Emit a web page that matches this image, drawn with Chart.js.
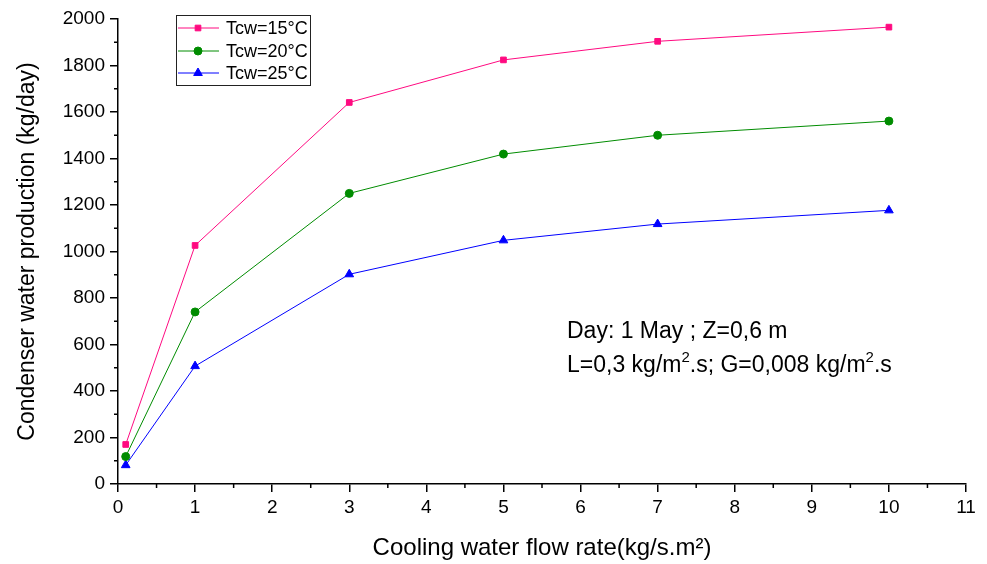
<!DOCTYPE html>
<html>
<head>
<meta charset="utf-8">
<script src="https://cdn.jsdelivr.net/npm/chart.js@4/dist/chart.umd.min.js"></script>
<style>
  html, body { margin: 0; padding: 0; background: #fff; }
  #wrap { width: 987px; height: 564px; position: relative; }
</style>
</head>
<body>
<div id="wrap"><canvas id="chart"></canvas></div>
<script>
// flow rate values (kg/s.m2)
const flowRates = [0.1, 1, 3, 5, 7, 10];
const tcw15 = [170, 1026, 1641, 1824, 1904, 1965];
const tcw20 = [118, 740, 1250, 1419, 1500, 1561];
const tcw25 = [81, 507, 902, 1048, 1118, 1177];
const seriesNames = ["Tcw=15°C", "Tcw=20°C", "Tcw=25°C"];
const seriesColors = ["#ff0a80", "#008c00", "#0000ff"];
const seriesMarkers = ["rect", "circle", "triangle"];

const FONT = "'Liberation Sans', Arial, sans-serif";

function toPoints(vals) {
    return flowRates.map((x, i) => ({ x: x, y: vals[i] }));
}

// minor ticks (chart.js has none), legend box and note text
const extras = {
    id: "extras",
    afterDraw(chart) {
        const ctx = chart.ctx;
        const xs = chart.scales.x, ys = chart.scales.y;
        const area = chart.chartArea;
        ctx.save();
        ctx.strokeStyle = "#000";
        ctx.lineWidth = 1.5;
        ctx.beginPath();
        for (let v = 0.5; v < 11; v += 1) {
            const px = xs.getPixelForValue(v);
            ctx.moveTo(px, area.bottom);
            ctx.lineTo(px, area.bottom + 4);
        }
        for (let v = 100; v < 2000; v += 200) {
            const py = ys.getPixelForValue(v);
            ctx.moveTo(area.left, py);
            ctx.lineTo(area.left - 4, py);
        }
        ctx.stroke();

        // legend
        ctx.lineWidth = 1;
        ctx.strokeStyle = "#222";
        ctx.strokeRect(176.5, 15.5, 134, 70);
        ctx.font = "18px " + FONT;
        ctx.textBaseline = "middle";
        const rows = [28, 51, 73];
        chart.data.datasets.forEach((ds, i) => {
            const y = rows[i];
            ctx.strokeStyle = ds.borderColor;
            ctx.fillStyle = ds.backgroundColor;
            ctx.lineWidth = 1;
            ctx.beginPath();
            ctx.moveTo(178, y);
            ctx.lineTo(219, y);
            ctx.stroke();
            Chart.helpers.drawPoint(ctx, {
                pointStyle: ds.pointStyle,
                radius: ds.pointRadius,
                rotation: 0,
                borderWidth: 1
            }, 198, y);
            ctx.fillStyle = "#000";
            ctx.fillText(ds.label, 226, y + 1);
        });

        // note
        ctx.fillStyle = "#000";
        ctx.textBaseline = "alphabetic";
        ctx.font = "23px " + FONT;
        ctx.fillText("Day: 1 May ; Z=0,6 m", 567, 338);
        const parts = [["L=0,3 kg/m", false], ["2", true], [".s; G=0,008 kg/m", false], ["2", true], [".s", false]];
        let x = 567;
        parts.forEach(([t, sup]) => {
            ctx.font = (sup ? "15px " : "23px ") + FONT;
            ctx.fillText(t, x, sup ? 362 : 372);
            x += ctx.measureText(t).width;
        });
        ctx.restore();
    }
};

const datasets = [tcw15, tcw20, tcw25].map((vals, i) => ({
    label: seriesNames[i],
    data: toPoints(vals),
    borderColor: seriesColors[i],
    backgroundColor: seriesColors[i],
    borderWidth: 1,
    pointStyle: seriesMarkers[i],
    pointRadius: i === 2 ? 5 : 4,
    pointBorderWidth: 1,
    tension: 0
}));

new Chart(document.getElementById("chart"), {
    type: "line",
    data: { datasets: datasets },
    options: {
        responsive: true,
        maintainAspectRatio: false,
        animation: false,
        devicePixelRatio: 1,
        layout: { padding: { top: 19, right: 21, left: 0, bottom: 0 } },
        plugins: {
            legend: { display: false },
            tooltip: { enabled: false }
        },
        scales: {
            x: {
                type: "linear",
                min: 0,
                max: 11,
                afterFit: (s) => { s.height = 80; },
                ticks: { stepSize: 1, color: "#000", font: { family: FONT, size: 19 }, padding: 4 },
                grid: { drawOnChartArea: false, drawTicks: true, tickLength: 8, color: "#000", lineWidth: 1.5 },
                border: { display: true, color: "#000", width: 1.5 },
                title: {
                    display: true,
                    text: "Cooling water flow rate(kg/s.m²)",
                    color: "#000",
                    font: { family: FONT, size: 24 },
                    padding: { top: 0, bottom: 1 }
                }
            },
            y: {
                min: 0,
                max: 2000,
                afterFit: (s) => { s.width = 118; },
                ticks: {
                    stepSize: 200, color: "#000", font: { family: FONT, size: 19 }, padding: 5,
                    callback: (v) => String(v)
                },
                grid: { drawOnChartArea: false, drawTicks: true, tickLength: 8, color: "#000", lineWidth: 1.5 },
                border: { display: true, color: "#000", width: 1.5 },
                title: {
                    display: true,
                    text: "Condenser water production (kg/day)",
                    color: "#000",
                    font: { family: FONT, size: 23 },
                    padding: { top: 14, bottom: 0 }
                }
            }
        }
    },
    plugins: [extras]
});
</script>
</body>
</html>
